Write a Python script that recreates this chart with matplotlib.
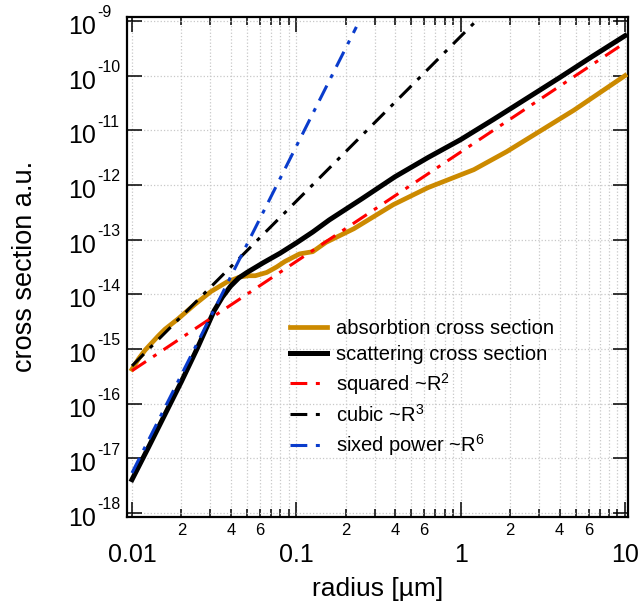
import numpy as np
import matplotlib
matplotlib.use("Agg")
import matplotlib.pyplot as plt
from matplotlib.ticker import FixedLocator, FixedFormatter, NullLocator, NullFormatter
from matplotlib.transforms import offset_copy

plt.rcParams['font.family'] = ['Liberation Sans', 'DejaVu Sans']
plt.rcParams['mathtext.fontset'] = 'custom'
plt.rcParams['mathtext.rm'] = 'Liberation Sans'
plt.rcParams['mathtext.it'] = 'Liberation Sans:italic'
plt.rcParams['mathtext.bf'] = 'Liberation Sans:bold'

# ---- data (log10 radius [um], log10 cross section) ----
scat_logr = [-2.0, -1.9, -1.8, -1.7, -1.6, -1.5, -1.45, -1.4, -1.35, -1.3, -1.25, -1.2,
             -1.1, -1.0, -0.9, -0.8, -0.6, -0.4, -0.2, 0.0, 0.2, 0.4, 0.6, 0.8, 1.0]
scat_logs = [-17.39, -16.80, -16.20, -15.60, -14.97, -14.30, -14.05, -13.85, -13.70, -13.60,
             -13.51, -13.42, -13.25, -13.06, -12.86, -12.64, -12.25, -11.85, -11.50, -11.17,
             -10.80, -10.42, -10.04, -9.65, -9.27]

abs_logr = [-2.0, -1.96, -1.92, -1.88, -1.84, -1.8, -1.72, -1.62, -1.52, -1.42, -1.34,
            -1.29, -1.25, -1.18, -1.12, -1.07, -0.98, -0.9, -0.82, -0.65, -0.41, -0.2,
            0.08, 0.28, 0.48, 0.69, 1.0]
abs_logs = [-15.37, -15.18, -15.02, -14.89, -14.76, -14.64, -14.45, -14.19, -13.95, -13.77,
            -13.68, -13.66, -13.66, -13.60, -13.50, -13.40, -13.26, -13.22, -13.05, -12.80,
            -12.36, -12.05, -11.72, -11.39, -11.02, -10.63, -10.0]

sq_r = [0.01, 10.0]
sq_s = [4.0e-16, 4.0e-10]
cub_r = [0.01, 1.224]
cub_s = [4.9e-16, 9.6e-10]
six_r = [0.01, 0.232]
six_s = [5.4e-18, 7.8e-10]

xmaj = [0.01, 0.1, 1, 10]
xmaj_labels = ['0.01', '0.1', '1', '10']
ymaj_exp = list(range(-18, -8))

scat_r = 10 ** np.array(scat_logr)
scat_s = 10 ** np.array(scat_logs)
abs_r = 10 ** np.array(abs_logr)
abs_s = 10 ** np.array(abs_logs)

fig = plt.figure(figsize=(6.4, 6.09), dpi=100)
ax = fig.add_axes([0.1992, 0.1511, 0.782, 0.8218])

orange = '#CC8A00'
blue = '#0A3CCC'
dd = (5.5, 2.8, 1.3, 2.8)

ax.plot(abs_r, abs_s, color=orange, lw=3.4, label='absorbtion cross section', zorder=3)
ax.plot(scat_r, scat_s, color='black', lw=3.6, label='scattering cross section', zorder=4)
l1, = ax.plot(sq_r, sq_s, color='#FF0000', lw=2.2, label='squared ~R$^{2}$', zorder=5)
l2, = ax.plot(cub_r, cub_s, color='black', lw=2.2, label='cubic ~R$^{3}$', zorder=5)
l3, = ax.plot(six_r, six_s, color=blue, lw=2.2, label='sixed power ~R$^{6}$', zorder=5)
for l in (l1, l2, l3):
    l.set_dashes(dd)

ax.set_xscale('log')
ax.set_yscale('log')
ax.set_xlim(10 ** -2.0274, 10 ** 1.018)
ax.set_ylim(10 ** -18.073, 10 ** -8.918)

# x ticks
ax.xaxis.set_major_locator(FixedLocator(xmaj))
ax.xaxis.set_major_formatter(FixedFormatter(xmaj_labels))
minors = []
minor_labels = []
for dec in [0.01, 0.1, 1]:
    for k in range(2, 10):
        minors.append(dec * k)
        minor_labels.append(str(k) if k in (2, 4, 6) else '')
ax.xaxis.set_minor_locator(FixedLocator(minors))
ax.xaxis.set_minor_formatter(FixedFormatter(minor_labels))

# y ticks: "10" plus a raised exponent
ax.yaxis.set_major_locator(FixedLocator([10.0 ** e for e in ymaj_exp]))
ax.yaxis.set_major_formatter(NullFormatter())
ax.yaxis.set_minor_locator(NullLocator())
ytr = ax.get_yaxis_transform()
for e in ymaj_exp:
    ax.text(0, 10.0 ** e, '10', transform=offset_copy(ytr, fig=fig, x=-31.5, y=-6, units='dots'),
            ha='right', va='center', fontsize=18, clip_on=False)
    ax.text(0, 10.0 ** e, '%d' % e, transform=offset_copy(ytr, fig=fig, x=-30.5, y=3.5, units='dots'),
            ha='left', va='baseline', fontsize=11.5, clip_on=False)

ax.tick_params(which='both', direction='in', top=True, right=True, width=1.1, color='black')
ax.tick_params(which='major', length=11)
ax.tick_params(which='minor', length=5.5)
ax.tick_params(axis='x', which='major', labelsize=18, pad=19)
ax.tick_params(axis='x', which='minor', labelsize=12, pad=4)

for s in ax.spines.values():
    s.set_linewidth(1.6)

ax.grid(True, which='major', axis='both', linestyle=':', color='#c8c8c8', lw=0.9)
ax.grid(True, which='minor', axis='x', linestyle=':', color='#c8c8c8', lw=0.9)
ax.set_axisbelow(True)

ax.set_xlabel('radius [µm]', fontsize=19, labelpad=7)
ax.set_ylabel('cross section a.u.', fontsize=19.5)
ax.yaxis.set_label_coords(-0.179, 0.5)

leg = ax.legend(loc='upper left', bbox_to_anchor=(0.325, 0.3956), frameon=False,
                fontsize=14.5, handlelength=1.84, handletextpad=0.45, borderpad=0,
                borderaxespad=0, labelspacing=0.34)
for h in leg.legend_handles[2:]:
    h.set_dashes(dd)

fig.savefig('out.png', dpi=100)
